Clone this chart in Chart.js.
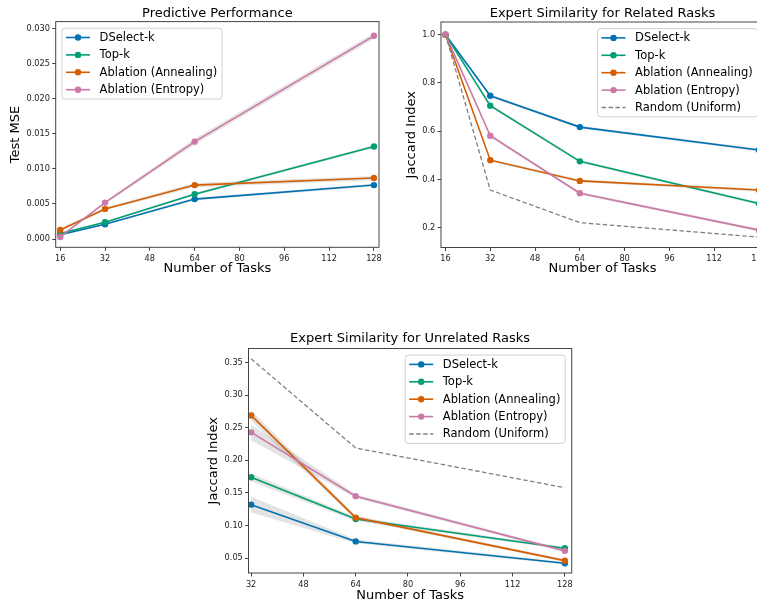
<!DOCTYPE html>
<html lang="en">
<head>
<meta charset="UTF-8">
<title>DSelect-k experiments</title>
<script src="https://cdn.jsdelivr.net/npm/chart.js"></script>
<style>
  html, body { margin: 0; padding: 0; background: #fff; }
  body { overflow: hidden; width: 757px; height: 604px; position: relative; }
  .panel { position: absolute; }
</style>
</head>
<body>
<div class="panel" style="left:0;top:0"><canvas id="perf" width="400" height="280"></canvas></div>
<div class="panel" style="left:380px;top:0"><canvas id="related" width="400" height="280"></canvas></div>
<div class="panel" style="left:190px;top:326px"><canvas id="unrelated" width="400" height="278"></canvas></div>

<script>
// ---- data ----
const tasksAll = [16, 32, 64, 128];
const tasksUnrel = [32, 64, 128];
const xTicksAll = [16, 32, 48, 64, 80, 96, 112, 128];
const xTicksUnrel = [32, 48, 64, 80, 96, 112, 128];

// predictive performance (test MSE)
const mseDselect = [0.0006, 0.0021, 0.0057, 0.0077];
const mseTopk    = [0.0008, 0.0024, 0.0064, 0.0132];
const mseAnneal  = [0.0013, 0.0043, 0.0077, 0.0087];
const mseEntropy = [0.0003, 0.0052, 0.0139, 0.0290];
const mseDselectErr = [0.0001, 0.0001, 0.0002, 0.0002];
const mseTopkErr    = [0.0001, 0.0001, 0.0002, 0.0002];
const mseAnnealErr  = [0.0002, 0.0002, 0.0003, 0.0003];
const mseEntropyErr = [0.0001, 0.0002, 0.0004, 0.0004];
const mseYTicks = [0, 0.005, 0.010, 0.015, 0.020, 0.025, 0.030];

// jaccard index, related tasks
const relDselect = [1.0, 0.747, 0.617, 0.522];
const relTopk    = [1.0, 0.706, 0.475, 0.300];
const relAnneal  = [1.0, 0.480, 0.394, 0.356];
const relEntropy = [1.0, 0.581, 0.343, 0.190];
const relRandom  = [1.0, 0.356, 0.221, 0.161];
const relErr     = [0.0, 0.006, 0.006, 0.006];
const relYTicks = [0.2, 0.4, 0.6, 0.8, 1.0];

// jaccard index, unrelated tasks
const unDselect = [0.132, 0.0755, 0.042];
const unTopk    = [0.174, 0.110, 0.065];
const unAnneal  = [0.269, 0.112, 0.046];
const unEntropy = [0.243, 0.145, 0.061];
const unRandom  = [0.356, 0.219, 0.158];
const unDselectErr = [0.012, 0.003, 0.002];
const unTopkErr    = [0.006, 0.003, 0.002];
const unAnnealErr  = [0.008, 0.003, 0.002];
const unEntropyErr = [0.012, 0.003, 0.002];
const unYTicks = [0.05, 0.10, 0.15, 0.20, 0.25, 0.30, 0.35];

const names = ['DSelect-k', 'Top-k', 'Ablation (Annealing)', 'Ablation (Entropy)', 'Random (Uniform)'];
const colors = ['#0072B2', '#009E73', '#D55E00', '#CC79A7', '#808080'];

const FONT = '"DejaVu Sans", "Liberation Sans", sans-serif';

// ---- helpers ----
function pts(xs, ys) { return xs.map((x, i) => ({ x: x, y: ys[i] })); }

function series(i, xs, ys) {
  return {
    label: names[i], data: pts(xs, ys),
    borderColor: colors[i], backgroundColor: colors[i],
    borderWidth: 1.6, pointRadius: 3.2, pointBorderWidth: 0,
    pointBackgroundColor: colors[i], tension: 0, fill: false, order: 5 - i
  };
}

function randomSeries(xs, ys) {
  return {
    label: names[4], data: pts(xs, ys),
    borderColor: colors[4], borderWidth: 1.3, borderDash: [4.5, 2.5],
    pointRadius: 0, tension: 0, fill: false, order: 0
  };
}

function band(xs, ys, err) {
  const lo = ys.map((v, i) => v - err[i]);
  const hi = ys.map((v, i) => v + err[i]);
  const base = { borderWidth: 0, pointRadius: 0, tension: 0, order: 20, backgroundColor: 'rgba(128,128,128,0.22)' };
  return [
    Object.assign({ data: pts(xs, lo), fill: false }, base),
    Object.assign({ data: pts(xs, hi), fill: '-1' }, base)
  ];
}

// black frame round the plot area
const frame = {
  id: 'frame',
  afterDatasetsDraw(chart) {
    const a = chart.chartArea, ctx = chart.ctx;
    ctx.save();
    ctx.strokeStyle = '#444';
    ctx.lineWidth = 1;
    ctx.strokeRect(a.left, a.top, a.right - a.left, a.bottom - a.top);
    ctx.restore();
  }
};

// matplotlib style legend box inside the axes
const boxLegend = {
  id: 'boxLegend',
  afterDraw(chart, args, opts) {
    const ctx = chart.ctx, a = chart.chartArea;
    const items = chart.data.datasets.filter(d => d.label);
    ctx.save();
    ctx.font = '11.5px ' + FONT;
    const textW = Math.max.apply(null, items.map(d => ctx.measureText(d.label).width));
    const w = 37.6 + textW + 4.8, rowH = 17.4, pad = 9.3;
    const h = pad * 2 + rowH * (items.length - 1);
    const x = opts.corner === 'ur' ? a.right - 6.5 - w : a.left + 6.3;
    const y = a.top + 6.6;
    ctx.beginPath();
    ctx.roundRect(x, y, w, h, 3);
    ctx.fillStyle = 'rgba(255,255,255,0.85)';
    ctx.fill();
    ctx.strokeStyle = '#d0d0d0';
    ctx.lineWidth = 1;
    ctx.stroke();
    items.forEach((d, i) => {
      const cy = y + pad + i * rowH;
      ctx.beginPath();
      ctx.setLineDash(d.borderDash || []);
      ctx.strokeStyle = d.borderColor;
      ctx.lineWidth = d.borderWidth;
      ctx.moveTo(x + 4, cy);
      ctx.lineTo(x + 28, cy);
      ctx.stroke();
      ctx.setLineDash([]);
      if (d.pointRadius > 0) {
        ctx.beginPath();
        ctx.fillStyle = d.borderColor;
        ctx.arc(x + 16, cy, d.pointRadius, 0, Math.PI * 2);
        ctx.fill();
      }
      ctx.fillStyle = '#000';
      ctx.textBaseline = 'middle';
      ctx.textAlign = 'left';
      ctx.fillText(d.label, x + 37.6, cy + 0.5);
    });
    ctx.restore();
  }
};

function makeChart(id, c) {
  return new Chart(document.getElementById(id), {
    type: 'line',
    data: { datasets: c.datasets },
    plugins: [frame, boxLegend],
    options: {
      responsive: false,
      animation: false,
      events: [],
      layout: { padding: { left: 0, top: 0, right: c.padRight, bottom: 0 } },
      plugins: {
        legend: { display: false },
        tooltip: { enabled: false },
        filler: { drawTime: 'beforeDatasetsDraw' },
        boxLegend: { corner: c.corner },
        title: {
          display: true, text: c.title, color: '#000', fullSize: false,
          font: { family: FONT, size: 13, weight: 'normal' },
          padding: { top: c.titleTop, bottom: c.titleBottom }
        }
      },
      scales: {
        x: {
          type: 'linear', min: c.xMin, max: c.xMax,
          afterFit(s) { s.height = c.xHeight; },
          afterBuildTicks(s) { s.ticks = c.xTicks.map(v => ({ value: v })); },
          grid: { drawOnChartArea: false, tickLength: 3.5, color: '#444' },
          border: { display: false },
          ticks: {
            font: { family: FONT, size: 8.2 }, color: '#222', padding: 3,
            maxRotation: 0, autoSkip: false, callback: v => String(v)
          },
          title: {
            display: true, text: 'Number of Tasks', color: '#000',
            font: { family: FONT, size: 13 }, padding: { top: 0, bottom: c.xTitlePad }
          }
        },
        y: {
          type: 'linear', min: c.yMin, max: c.yMax,
          afterFit(s) { s.width = c.yWidth; },
          afterBuildTicks(s) { s.ticks = c.yTicks.map(v => ({ value: v })); },
          grid: { drawOnChartArea: false, tickLength: 3.5, color: '#444' },
          border: { display: false },
          ticks: {
            font: { family: FONT, size: 8.2 }, color: '#222', padding: 2.2,
            autoSkip: false, callback: v => v.toFixed(c.yDec)
          },
          title: {
            display: true, text: c.yTitle, color: '#000',
            font: { family: FONT, size: 13 }, padding: { top: c.yTitlePad, bottom: 0 }
          }
        }
      }
    }
  });
}

// ---- chart 1 ----
makeChart('perf', {
  title: 'Predictive Performance', yTitle: 'Test MSE', corner: 'ul',
  datasets: [
    series(0, tasksAll, mseDselect), series(1, tasksAll, mseTopk),
    series(2, tasksAll, mseAnneal), series(3, tasksAll, mseEntropy)
  ].concat(band(tasksAll, mseDselect, mseDselectErr), band(tasksAll, mseTopk, mseTopkErr),
           band(tasksAll, mseAnneal, mseAnnealErr), band(tasksAll, mseEntropy, mseEntropyErr)),
  xMin: 14.4, xMax: 129.8, xTicks: xTicksAll,
  yMin: -0.00118, yMax: 0.03103, yTicks: mseYTicks, yDec: 3,
  padRight: 21, yWidth: 55.7, xHeight: 32.7, titleTop: 6, titleBottom: 0,
  xTitlePad: 3.2, yTitlePad: 8.2
});

// ---- chart 2 ----
makeChart('related', {
  title: 'Expert Similarity for Related Rasks', yTitle: 'Jaccard Index', corner: 'ur',
  datasets: [
    series(0, tasksAll, relDselect), series(1, tasksAll, relTopk),
    series(2, tasksAll, relAnneal), series(3, tasksAll, relEntropy),
    randomSeries(tasksAll, relRandom)
  ].concat(band(tasksAll, relDselect, relErr), band(tasksAll, relTopk, relErr),
           band(tasksAll, relAnneal, relErr), band(tasksAll, relEntropy, relErr)),
  xMin: 14.4, xMax: 129.8, xTicks: xTicksAll,
  yMin: 0.118, yMax: 1.0526, yTicks: relYTicks, yDec: 1,
  padRight: 16, yWidth: 61, xHeight: 32.5, titleTop: 6, titleBottom: 0.4,
  xTitlePad: 3.2, yTitlePad: 23.9
});

// ---- chart 3 ----
makeChart('unrelated', {
  title: 'Expert Similarity for Unrelated Rasks', yTitle: 'Jaccard Index', corner: 'ur',
  datasets: [
    series(0, tasksUnrel, unDselect), series(1, tasksUnrel, unTopk),
    series(2, tasksUnrel, unAnneal), series(3, tasksUnrel, unEntropy),
    randomSeries(tasksUnrel, unRandom)
  ].concat(band(tasksUnrel, unDselect, unDselectErr), band(tasksUnrel, unTopk, unTopkErr),
           band(tasksUnrel, unAnneal, unAnnealErr), band(tasksUnrel, unEntropy, unEntropyErr)),
  xMin: 31.2, xMax: 130.1, xTicks: xTicksUnrel,
  yMin: 0.027, yMax: 0.3718, yTicks: unYTicks, yDec: 2,
  padRight: 18.3, yWidth: 58.5, xHeight: 31, titleTop: 5.2, titleBottom: 1.7,
  xTitlePad: 0.2, yTitlePad: 15.5
});
</script>
</body>
</html>
